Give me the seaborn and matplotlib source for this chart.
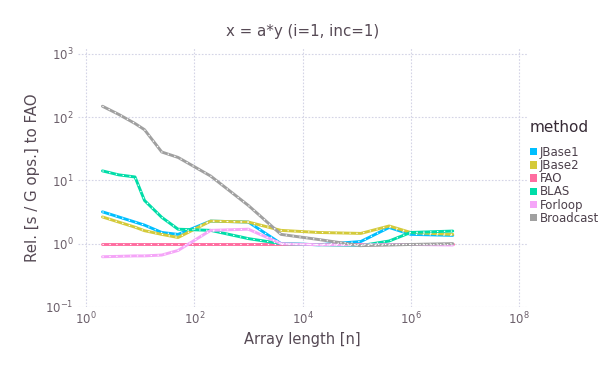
import numpy as np
import pandas as pd
import matplotlib
matplotlib.use("Agg")
import matplotlib.pyplot as plt
import seaborn as sns
from matplotlib.patches import Patch

lengths = [2, 4, 8, 12, 25, 50, 200, 1000, 4000, 20000, 120000, 400000, 1000000, 6000000]
methods = ["JBase1", "JBase2", "FAO", "BLAS", "Forloop", "Broadcast"]
jbase1 = [3.18, 2.64, 2.19, 1.96, 1.5, 1.4, 2.27, 2.19, 1.0, 0.96, 1.08, 1.8, 1.4, 1.35]
jbase2 = [2.64, 2.19, 1.82, 1.6, 1.4, 1.25, 2.27, 2.19, 1.62, 1.5, 1.45, 1.9, 1.5, 1.4]
fao = [1.0] * 14
blas = [14.1, 12.2, 11.3, 4.8, 2.6, 1.69, 1.62, 1.2, 1.0, 0.96, 0.93, 1.1, 1.5, 1.58]
forloop = [0.62, 0.63, 0.64, 0.64, 0.66, 0.78, 1.62, 1.69, 1.0, 0.96, 0.95, 0.97, 0.97, 0.95]
broadcast = [148, 110, 79, 63, 28, 23, 11.7, 4.0, 1.4, 1.16, 0.93, 0.95, 0.97, 1.0]
colors = ["#00BFFF", "#D4CA3A", "#FF6DA0", "#00DDA8", "#F5A5F8", "#A0A0A0"]

series = {"JBase1": jbase1, "JBase2": jbase2, "FAO": fao, "BLAS": blas,
          "Forloop": forloop, "Broadcast": broadcast}
df = pd.DataFrame([(n, m, v) for m in methods for n, v in zip(lengths, series[m])],
                  columns=["n", "method", "rel"])

sns.set_style("white")
plt.rcParams["font.family"] = ["DejaVu Sans"]

fig = plt.figure(figsize=(6.05, 3.78), dpi=100)
ax = fig.add_axes([0.129, 0.188, 0.742, 0.685])

sns.lineplot(data=df, x="n", y="rel", hue="method", hue_order=methods,
             palette=colors, linewidth=2.1, ax=ax, legend=False, zorder=3)
sns.lineplot(data=df, x="n", y="rel", hue="method", hue_order=methods,
             palette=["white"] * 6, linewidth=0.8, ax=ax, legend=False, zorder=4,
             style="method", dashes=[(1.2, 5)] * 6)

ax.set_xscale("log")
ax.set_yscale("log")
ax.set_xlim(10 ** -0.15, 10 ** 8.15)
ax.set_ylim(10 ** -0.12, 10 ** 3.09)
ax.set_xticks([1, 1e2, 1e4, 1e6, 1e8])
ax.set_xticklabels([r"$10^{0}$", r"$10^{2}$", r"$10^{4}$", r"$10^{6}$", r"$10^{8}$"])
ax.set_yticks([1e-1, 1, 1e1, 1e2, 1e3])
ax.set_yticklabels([r"$10^{-1}$", r"$10^{0}$", r"$10^{1}$", r"$10^{2}$", r"$10^{3}$"])
ax.minorticks_off()
ax.tick_params(axis="both", length=0, labelsize=8.5, labelcolor="#6c606b", pad=3)
ax.grid(True, color="#D4D4E6", linestyle=(0, (1.5, 1.5)), linewidth=0.8)
for s in ax.spines.values():
    s.set_visible(False)

ax.set_xlabel("Array length [n]", fontsize=10.5, color="#564a55", labelpad=3)
ax.set_ylabel("Rel. [s / G ops.] to FAO", fontsize=10.8, color="#564a55", labelpad=4)
ax.set_title("x = a*y (i=1, inc=1)", fontsize=10.8, color="#564a55", pad=9)

fig.text(0.875, 1 - 127 / 378, "method", fontsize=11, color="#362a35",
         ha="left", va="center")
handles = [Patch(facecolor=c, edgecolor="none") for c in colors]
leg = fig.legend(handles, methods, loc="upper left",
                 bbox_to_anchor=(0.868, 0.627), frameon=False, fontsize=8.5,
                 handlelength=0.6, handleheight=0.6,
                 handletextpad=0.25, labelspacing=0.02, borderaxespad=0)
for t in leg.get_texts():
    t.set_color("#4c404b")

fig.savefig("out.png", dpi=100)
